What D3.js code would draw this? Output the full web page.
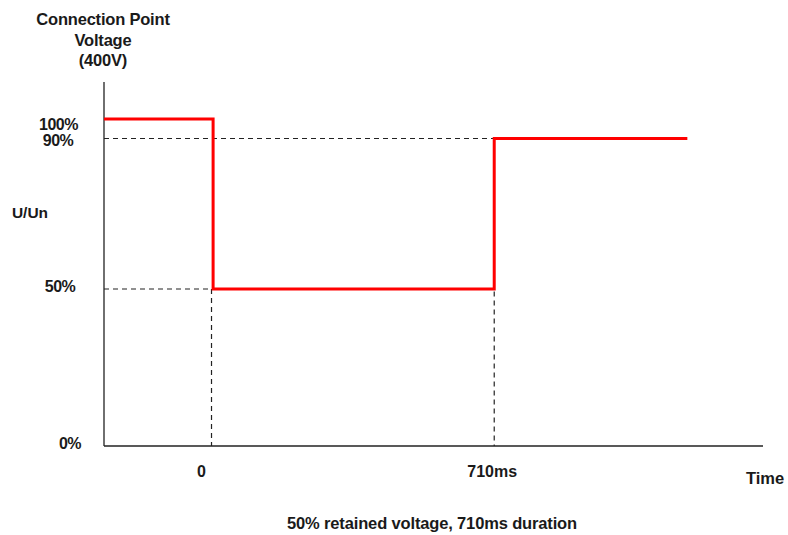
<!DOCTYPE html>
<html><head><meta charset="utf-8">
<script src="https://cdn.jsdelivr.net/npm/d3@7"></script>
<style>body{margin:0;background:#fff}text{font-family:"Liberation Sans",Arial,sans-serif;font-weight:bold;fill:#1a1a1a}</style>
</head><body><svg id="c" width="788" height="535"></svg>
<script>
// Data
const titleLines = ["Connection Point", "Voltage", "(400V)"];
const yTickValues = [0, 50, 90, 100];
const yTickLabels = ["0%", "50%", "90%", "100%"];
const xTickValues = [0, 710];
const xTickLabels = ["0", "710ms"];
const timeMs = [-270, 4, 4, 710, 710, 1195];
const voltagePct = [100, 100, 50, 50, 90, 90];
const refLevels = [50, 90];      // dashed horizontal guides
const refTimes = [0, 710];       // dashed vertical guides
const refTimeLevels = [50, 90];
const xLabel = "Time", yLabel = "U/Un";
const caption = "50% retained voltage, 710ms duration";

const svg = d3.select("#c");
const x = d3.scaleLinear().domain([-270, 1385]).range([104, 763]);
// non-linear (schematic) vertical spacing
const y = d3.scaleLinear().domain([0, 50, 90, 100, 110]).range([446, 289, 138.5, 119, 82]);

// dashed guides
svg.selectAll(".hg").data(refLevels).enter().append("line")
  .attr("x1", x(-270)).attr("x2", (d,i)=>x(refTimes[i]))
  .attr("y1", d=>y(d)).attr("y2", d=>y(d))
  .attr("stroke", "#222").attr("stroke-width", 1.2).attr("stroke-dasharray", "5,4");
svg.selectAll(".vg").data(refTimes).enter().append("line")
  .attr("x1", d=>x(d)).attr("x2", d=>x(d))
  .attr("y1", (d,i)=>y(refTimeLevels[i])).attr("y2", y(0))
  .attr("stroke", "#222").attr("stroke-width", 1.2).attr("stroke-dasharray", "5,4");

// axes lines
svg.append("line").attr("x1", x(-270)).attr("x2", x(-270)).attr("y1", y(110)).attr("y2", y(0))
  .attr("stroke", "#222").attr("stroke-width", 1.3);
svg.append("line").attr("x1", x(-270)).attr("x2", x(1385)).attr("y1", y(0)).attr("y2", y(0))
  .attr("stroke", "#222").attr("stroke-width", 1.3);

// red trace
const pts = timeMs.map((t,i)=>[t, voltagePct[i]]);
svg.append("path").datum(pts)
  .attr("d", d3.line().x(d=>x(d[0])).y(d=>y(d[1])))
  .attr("fill", "none").attr("stroke", "#ff0000").attr("stroke-width", 3).attr("stroke-linejoin", "miter");

// y tick labels
const yOff = {0:-3, 50:-3, 90:2, 100:5};
const yLx = {0:70, 50:60, 90:58, 100:58.5};
svg.selectAll(".yl").data(yTickValues).enter().append("text")
  .attr("x", d=>yLx[d]).attr("y", d=>y(d)+yOff[d]).attr("dy", "0.35em")
  .attr("text-anchor", "middle").attr("font-size", 16).attr("letter-spacing", -0.5).text((d,i)=>yTickLabels[i]);

// x tick labels
const xOff = [-10, -2];
svg.selectAll(".xl").data(xTickValues).enter().append("text")
  .attr("x", (d,i)=>x(d)+xOff[i]).attr("y", 471).attr("dy", "0.35em")
  .attr("text-anchor", "middle").attr("font-size", 16).text((d,i)=>xTickLabels[i]);

svg.append("text").attr("x", 765).attr("y", 478).attr("dy", "0.35em").attr("text-anchor", "middle")
  .attr("font-size", 16.5).text(xLabel);
svg.append("text").attr("x", 30).attr("y", 213).attr("dy", "0.35em").attr("text-anchor", "middle")
  .attr("font-size", 15.5).text(yLabel);

svg.selectAll(".tt").data(titleLines).enter().append("text")
  .attr("x", 103).attr("y", (d,i)=>25 + i*20.5).attr("text-anchor", "middle")
  .attr("font-size", 16.5).attr("letter-spacing", -0.2).text(d=>d);

svg.append("text").attr("x", 432).attr("y", 523).attr("dy", "0.35em").attr("text-anchor", "middle")
  .attr("font-size", 16.5).attr("letter-spacing", -0.15).text(caption);
</script></body></html>
